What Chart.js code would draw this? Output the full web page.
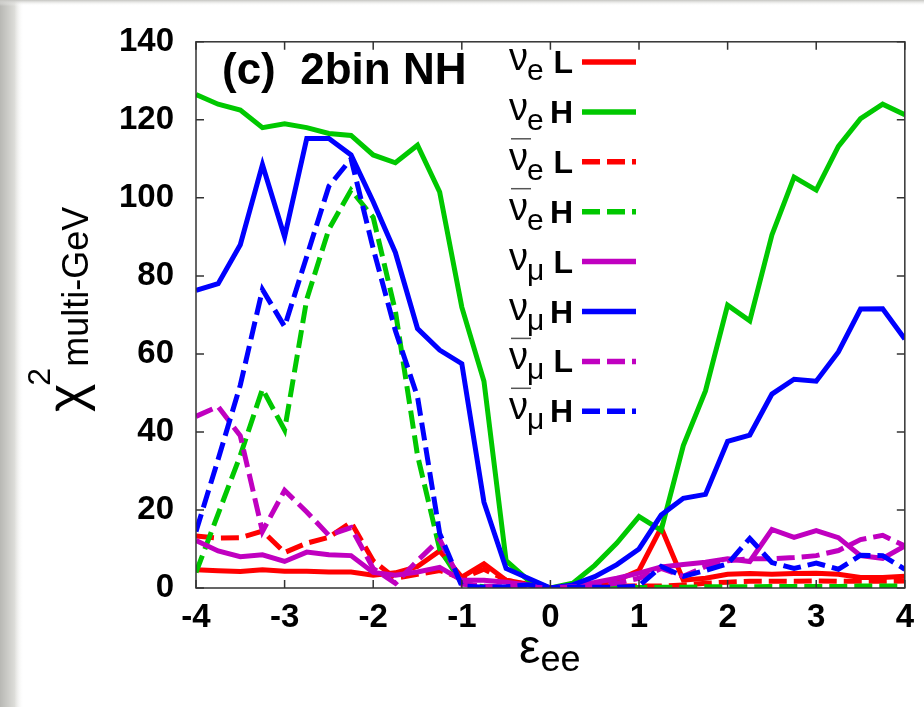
<!DOCTYPE html>
<html>
<head>
<meta charset="utf-8">
<script src="https://cdn.jsdelivr.net/npm/chart.js@4.4.0/dist/chart.umd.min.js"></script>
<style>
  html, body { margin: 0; padding: 0; background: #fff; }
  canvas { display: block; }
</style>
</head>
<body>
<canvas id="chart" width="924" height="707"></canvas>
<script>
// epsilon_ee grid
const epsEE = [-4, -3.75, -3.5, -3.25, -3, -2.75, -2.5, -2.25, -2, -1.75, -1.5, -1.25, -1, -0.75, -0.5, -0.25,
  0, 0.25, 0.5, 0.75, 1, 1.25, 1.5, 1.75, 2, 2.25, 2.5, 2.75, 3, 3.25, 3.5, 3.75, 4];

// chi^2 multi-GeV, one array per sample
const nueL = [4.7, 4.4, 4.2, 4.7, 4.3, 4.3, 4.1, 4.1, 3.3, 3.9, 5.5, 9.5, 2.8, 6.2, 2.0, 1.0,
  0, 0.5, 1.2, 2.0, 4.5, 15.5, 2.0, 2.5, 3.5, 3.7, 3.5, 3.7, 3.8, 3.5, 2.7, 2.7, 3.0];
const nueH = [126.5, 124, 122.5, 118, 119, 118, 116.5, 116, 111, 109, 113.5, 101.5, 72, 53, 7, 2,
  0, 1.2, 5.8, 11.5, 18.3, 14.8, 36.5, 50.5, 72.5, 68.5, 90.5, 105.3, 102, 113.2, 120.3, 124, 121.3];
const nuebarL = [13.3, 12.8, 12.9, 14.6, 9.1, 11.5, 13, 16.8, 7, 2.5, 3.5, 4.5, 2.5, 4.8, 2, 0.8,
  0, 0.2, 0.3, 0.5, 0.5, 0.5, 0.8, 1.2, 1.5, 1.7, 1.7, 1.7, 1.8, 1.7, 1.7, 1.7, 1.8];
const nuebarH = [4, 19, 34, 51, 40.5, 74, 92, 102, 95, 71, 34, 10, 1.2, 0.3, 0.1, 0,
  0, 0, 0.1, 0.1, 0.1, 0.2, 0.2, 0.3, 0.3, 0.3, 0.4, 0.4, 0.4, 0.4, 0.5, 0.5, 0.5];
const numuL = [12.2, 9.5, 8, 8.5, 6.8, 9.2, 8.5, 8.3, 4, 3.3, 4.1, 5.3, 2, 2, 1.5, 0.8,
  0, 0.6, 1.4, 2.5, 3.8, 5.4, 6, 6.6, 7.5, 6.8, 15, 13, 14.7, 12.9, 8.3, 7.6, 10.8];
const numuH = [76.3, 78, 88, 108.5, 90, 115.2, 115.2, 111, 99, 86, 66.5, 61, 57.5, 22, 5, 2.5,
  0, 0.8, 2.9, 6, 10, 18.7, 23, 24, 37.6, 39.2, 49.7, 53.5, 53, 60.5, 71.5, 71.6, 63.8];
const numubarL = [44, 46.5, 39, 14.5, 25, 19.5, 13.5, 15.5, 5, 1.2, 7, 12.5, 1, 0.5, 0.3, 0.3,
  0, 0.3, 0.5, 1.2, 2.5, 5, 3, 5.5, 7, 7.5, 7.5, 7.8, 8.3, 9.6, 12.4, 13.5, 10.8];
const numubarH = [14.5, 33, 52, 76.5, 67, 85, 103, 110, 87, 66, 49, 14, 0.5, 0.2, 0.3, 0.8,
  0, 0.2, 0.2, 0.2, 0.5, 5.5, 3, 4.5, 6.2, 12.7, 6.5, 5, 6.4, 4.8, 8.4, 8.3, 4.8];

const xTickValues = [-4, -3, -2, -1, 0, 1, 2, 3, 4];
const yTickValues = [0, 20, 40, 60, 80, 100, 120, 140];

// legend text pieces
const legendFlavor = ["e", "e", "e", "e", "\u03bc", "\u03bc", "\u03bc", "\u03bc"];
const legendAnti = [false, false, true, true, false, false, true, true];
const legendMass = ["L", "H", "L", "H", "L", "H", "L", "H"];
const panelTitle = "(c)  2bin NH";

const RED = "#ff0000", GREEN = "#00c800", MAG = "#c000c0", BLUE = "#0000ff";
const DASH = [18, 7];
const FONT = "'Liberation Sans', Arial, sans-serif";

function series(label, values, color, dashed) {
  return {
    label,
    data: values.map((v, i) => ({ x: epsEE[i], y: v })),
    borderColor: color,
    borderWidth: 5,
    borderDash: dashed ? DASH : [],
    pointRadius: 0,
    tension: 0,
    fill: false
  };
}

const datasets = [
  series("nue L", nueL, RED, false),
  series("nue H", nueH, GREEN, false),
  series("nuebar L", nuebarL, RED, true),
  series("nuebar H", nuebarH, GREEN, true),
  series("numu L", numuL, MAG, false),
  series("numu H", numuH, BLUE, false),
  series("numubar L", numubarL, MAG, true),
  series("numubar H", numubarH, BLUE, true)
];
// later samples are drawn on top, like gnuplot
datasets.forEach((d, i) => { d.order = datasets.length - i; });

const background = {
  id: "background",
  beforeDraw(chart) {
    const ctx = chart.ctx;
    ctx.save();
    ctx.fillStyle = "#fff";
    ctx.fillRect(0, 0, chart.width, chart.height);
    const g = ctx.createLinearGradient(0, 0, 24, 0);
    g.addColorStop(0, "#b8b8b4");
    g.addColorStop(0.6, "#dcdcd8");
    g.addColorStop(1, "rgba(255,255,255,0)");
    ctx.fillStyle = g;
    ctx.fillRect(0, 0, 24, chart.height);
    const gt = ctx.createLinearGradient(0, 0, 0, 6);
    gt.addColorStop(0, "#c4c4c0");
    gt.addColorStop(1, "rgba(255,255,255,0)");
    ctx.fillStyle = gt;
    ctx.fillRect(0, 0, chart.width, 6);
    ctx.restore();
  }
};

const frame = {
  id: "frame",
  afterDatasetsDraw(chart) {
    const { ctx, chartArea: a, scales: { x, y } } = chart;
    ctx.save();
    ctx.strokeStyle = "#333";
    ctx.lineWidth = 1.5;
    ctx.strokeRect(a.left, a.top, a.right - a.left, a.bottom - a.top);
    ctx.beginPath();
    for (const v of xTickValues) {
      const px = x.getPixelForValue(v);
      ctx.moveTo(px, a.bottom); ctx.lineTo(px, a.bottom - 8);
      ctx.moveTo(px, a.top); ctx.lineTo(px, a.top + 8);
    }
    for (const v of yTickValues) {
      const py = y.getPixelForValue(v);
      ctx.moveTo(a.left, py); ctx.lineTo(a.left + 8, py);
      ctx.moveTo(a.right, py); ctx.lineTo(a.right - 8, py);
    }
    ctx.stroke();
    ctx.restore();
  }
};

const texts = {
  id: "texts",
  afterDraw(chart) {
    const ctx = chart.ctx;
    ctx.save();
    ctx.fillStyle = "#000";
    ctx.textBaseline = "alphabetic";

    // panel title
    ctx.font = "bold 44px " + FONT;
    ctx.textAlign = "left";
    ctx.fillText(panelTitle, 222, 84);

    // legend
    const ds = chart.data.datasets;
    for (let k = 0; k < ds.length; k++) {
      const rowY = 62 + 49.9 * k;
      ctx.fillStyle = "#000";
      ctx.textAlign = "left";
      ctx.font = "38px " + FONT;
      ctx.fillText("\u03bd", 509, rowY + 8);
      const w = ctx.measureText("\u03bd").width;
      ctx.font = "30px " + FONT;
      ctx.fillText(legendFlavor[k], 509 + w - 1, rowY + 18);
      if (legendAnti[k]) {
        ctx.strokeStyle = "#555";
        ctx.lineWidth = 1.5;
        ctx.beginPath();
        ctx.moveTo(511, rowY - 23);
        ctx.lineTo(531, rowY - 23);
        ctx.stroke();
      }
      ctx.font = "bold 32px " + FONT;
      ctx.textAlign = "right";
      ctx.fillText(legendMass[k], 573, rowY + 11);

      ctx.strokeStyle = ds[k].borderColor;
      ctx.lineWidth = ds[k].borderWidth + 0.5;
      ctx.setLineDash(ds[k].borderDash);
      ctx.beginPath();
      ctx.moveTo(582, rowY);
      ctx.lineTo(636, rowY);
      ctx.stroke();
      ctx.setLineDash([]);
    }

    // x axis title: epsilon_ee
    ctx.textAlign = "left";
    ctx.font = "48px " + FONT;
    ctx.fillText("\u03b5", 519, 663);
    const ew = ctx.measureText("\u03b5").width;
    ctx.font = "36px " + FONT;
    ctx.fillText("ee", 519 + ew, 671);

    // y axis title: chi^2 multi-GeV (rotated)
    ctx.translate(0, 412);
    ctx.rotate(-Math.PI / 2);
    ctx.font = "54px " + FONT;
    ctx.fillText("\u03c7", 0, 84);
    const cw = ctx.measureText("\u03c7").width;
    ctx.font = "32px " + FONT;
    ctx.fillText("2", cw - 2, 50);
    const tw = ctx.measureText("2").width;
    ctx.font = "36px " + FONT;
    ctx.fillText("multi-GeV", cw + tw - 1, 88);
    ctx.restore();
  }
};

new Chart(document.getElementById("chart"), {
  type: "line",
  data: { datasets },
  options: {
    responsive: false,
    animation: false,
    layout: { padding: { left: 0, right: 17, top: 30, bottom: 0 } },
    plugins: { legend: { display: false }, tooltip: { enabled: false } },
    scales: {
      x: {
        type: "linear",
        min: -4,
        max: 4,
        afterBuildTicks: (s) => { s.ticks = xTickValues.map(v => ({ value: v })); },
        afterFit: (s) => { s.height = 119; },
        grid: { display: false, drawTicks: false },
        border: { display: false },
        ticks: {
          autoSkip: false,
          maxRotation: 0,
          padding: 10,
          color: "#000",
          font: { family: FONT, size: 33, weight: "bold" }
        }
      },
      y: {
        min: 0,
        max: 140,
        afterBuildTicks: (s) => { s.ticks = yTickValues.map(v => ({ value: v })); },
        afterFit: (s) => { s.width = 196; },
        grid: { display: false, drawTicks: false },
        border: { display: false },
        ticks: {
          padding: 22,
          color: "#000",
          font: { family: FONT, size: 33, weight: "bold" }
        }
      }
    }
  },
  plugins: [background, frame, texts]
});
</script>
</body>
</html>
